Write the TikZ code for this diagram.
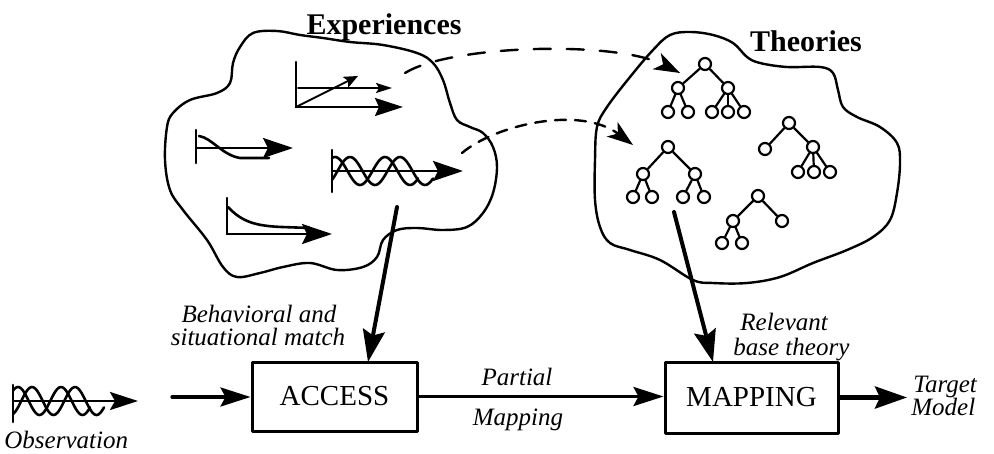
\documentclass[tikz,border=0pt]{standalone}
\usepackage{fontspec}
\setmainfont{Liberation Serif}
\usetikzlibrary{arrows.meta}

\tikzset{
  outline/.style={line width=1.2pt},
  icon/.style={line width=1.3pt},
  tn/.style={circle, draw, line width=1.1pt, minimum size=6pt, inner sep=0pt},
  tedge/.style={line width=1.1pt},
  bigarrow/.style={line width=2pt, -{Stealth[length=16pt, width=11pt, inset=2.5pt]}},
  flowarrow/.style={line width=1.6pt, -{Stealth[length=15pt, width=9.5pt, inset=2.5pt]}},
  outarrow/.style={line width=2.3pt, -{Stealth[length=16pt, width=11pt, inset=2.5pt]}},
  dasharrow/.style={line width=1.2pt, -{Stealth[length=13pt, width=9pt, inset=3.5pt]}},
  procbox/.style={draw, line width=1.5pt, inner sep=0pt, font=\fontsize{14.5}{17}\selectfont},
  lbl/.style={inner sep=0pt, font=\fontsize{12.5}{15}\selectfont\itshape},
  heading/.style={inner sep=0pt, font=\fontsize{15}{18}\selectfont\bfseries},
}

\begin{document}
\begin{tikzpicture}[x=0.5pt, y=-0.5pt, line join=round, line cap=round]
\useasboundingbox (0,0) rectangle (994,454);

% ---------------- Experiences cloud ----------------
\draw[outline] plot[smooth cycle, tension=0.6] coordinates {
  (253,33) (277,31) (300,35) (323,38) (350,42) (383,45) (417,53) (433,63)
  (443,80) (450,103) (457,120) (470,127) (483,133) (493,147) (497,167)
  (493,193) (483,213) (467,227) (443,230) (417,228) (397,230) (383,240)
  (377,257) (363,267) (337,270) (310,263) (283,267) (260,273) (237,277)
  (223,267) (207,240) (183,210) (170,190) (165,160) (167,127) (173,113)
  (190,100) (217,93) (230,83) (233,63) (240,47)};
\node[heading, anchor=base] (exptitle) at (384,35) {Experiences};

% icon: rising line
\draw[icon] (296,62) -- (296,107);
\draw[icon, -{Stealth[length=14pt, width=9pt, inset=2pt]}] (296,107) -- (403,107);
\draw[line width=1pt, -{Stealth[length=8pt, width=5pt, inset=1.5pt]}] (298,88) -- (392,88);
\draw[line width=1pt, -{Stealth[length=7pt, width=6pt, inset=1.5pt]}] (296,107) -- (358,76);

% icon: S-curve
\draw[icon] (196,130) -- (196,163);
\draw[icon, -{Stealth[length=15pt, width=10pt, inset=2.5pt]}] (196,148) -- (293,148);
\draw[icon] (199,136) .. controls (212,138) and (222,155) .. (240,158) -- (269,158);

% icon: two waves (period 50 px)
\draw[icon] (332,150) -- (332,192);
\draw[icon] plot[domain=332:418, samples=60, smooth] (\x, {171 - 14*cos(7.2*(\x-335))});
\draw[icon] plot[domain=332:433, samples=60, smooth] (\x, {171 - 14*cos(7.2*(\x-350))});
\draw[icon, -{Stealth[length=15pt, width=10pt, inset=2.5pt]}] (332,171) -- (463,171);

% icon: decay
\draw[icon] (227,198) -- (227,234);
\draw[icon, -{Stealth[length=15pt, width=10pt, inset=2.5pt]}] (227,234) -- (332,234);
\draw[icon] (228,207) .. controls (242,222) and (256,226) .. (282,227) -- (310,228);

% ---------------- Theories cloud ----------------
\draw[outline] plot[smooth cycle, tension=0.6] coordinates {
  (670,35) (690,32) (713,35) (733,43) (747,57) (760,63) (787,67) (820,67)
  (833,73) (838,90) (843,107) (857,117) (880,127) (897,143) (900,163)
  (897,193) (890,220) (873,237) (847,250) (813,263) (780,277) (747,283)
  (713,283) (693,280) (660,260) (630,250) (610,243) (600,227) (595,200)
  (595,160) (597,127) (607,107) (630,77) (653,50)};
\node[heading, anchor=base] (thtitle) at (806,52) {Theories};

% tree A
\node[tn] (a0) at (705,64) {};
\node[tn] (a1) at (678,88) {};
\node[tn] (a2) at (728,88) {};
\node[tn] (a3) at (668,112) {};
\node[tn] (a4) at (688,112) {};
\node[tn] (a5) at (712,112) {};
\node[tn] (a6) at (728,112) {};
\node[tn] (a7) at (744,112) {};
\foreach \p/\c in {a0/a1, a0/a2, a1/a3, a1/a4, a2/a5, a2/a6, a2/a7}
  \draw[tedge] (\p) -- (\c);

% tree B
\node[tn] (b0) at (789,123) {};
\node[tn] (b1) at (765,149) {};
\node[tn] (b2) at (813,147) {};
\node[tn] (b3) at (798,172) {};
\node[tn] (b4) at (814,172) {};
\node[tn] (b5) at (830,172) {};
\foreach \p/\c in {b0/b1, b0/b2, b2/b3, b2/b4, b2/b5}
  \draw[tedge] (\p) -- (\c);

% tree C
\node[tn] (c0) at (668,147) {};
\node[tn] (c1) at (643,174) {};
\node[tn] (c2) at (695,174) {};
\node[tn] (c3) at (633,197) {};
\node[tn] (c4) at (652,197) {};
\node[tn] (c5) at (683,197) {};
\node[tn] (c6) at (704,197) {};
\foreach \p/\c in {c0/c1, c0/c2, c1/c3, c1/c4, c2/c5, c2/c6}
  \draw[tedge] (\p) -- (\c);

% tree D
\node[tn] (d0) at (758,196) {};
\node[tn] (d1) at (733,221) {};
\node[tn] (d2) at (782,221) {};
\node[tn] (d3) at (722,243) {};
\node[tn] (d4) at (742,243) {};
\foreach \p/\c in {d0/d1, d0/d2, d1/d3, d1/d4}
  \draw[tedge] (\p) -- (\c);

% ---------------- dashed links between the clouds ----------------
\coordinate (ds1) at (405,73);
\coordinate (de1) at (680,73);
\coordinate (ds2) at (462,153);
\coordinate (de2) at (633,145);
\draw[dasharrow, dash pattern=on 8.5pt off 8pt] (ds1) .. controls (450,45) and (615,40) .. (de1);
\draw[dasharrow, dash pattern=on 5.5pt off 4.5pt] (ds2) .. controls (495,125) and (580,105) .. (de2);

% ---------------- process boxes ----------------
\node[procbox, minimum width=82.5pt, minimum height=34.5pt] (access) at (334.5,396.5) {ACCESS};
\node[procbox, minimum width=86.5pt, minimum height=35.5pt] (mapping) at (751.5,397.5) {MAPPING};

% observation icon (period 43 px)
\draw[icon] (13,385) -- (13,422);
\draw[icon] plot[domain=13:90, samples=50, smooth] (\x, {401 - 14*cos(8.372*(\x-18))});
\draw[icon] plot[domain=13:104, samples=50, smooth] (\x, {401 - 14*cos(8.372*(\x-32))});
\draw[icon, -{Stealth[length=14pt, width=9pt, inset=2.5pt]}] (13,401) -- (138,401);
\node[lbl, anchor=base west] (obs) at (4,448) {Observation};

% ---------------- connectors ----------------
\coordinate (obsout) at (172,397);
\draw[flowarrow] (obsout) -- (obsout -| access.west);
\draw[flowarrow] (access.east) -- (access.east -| mapping.west);
\coordinate (tgt) at (907,397.5);
\draw[outarrow] (mapping.east) -- (tgt);

\coordinate (expout) at (397,207);
\coordinate (accin) at (368,362);
\draw[bigarrow] (expout) -- (accin);
\coordinate (thout) at (674,212);
\coordinate (mapin) at (713,362);
\draw[bigarrow] (thout) -- (mapin);

% ---------------- labels ----------------
\node[lbl, anchor=base] (beh1) at (259,322) {Behavioral and};
\node[lbl, anchor=base] (beh2) at (258,345) {situational match};
\node[lbl, anchor=base west] (rel1) at (740,330) {Relevant};
\node[lbl, anchor=base west] (rel2) at (733,355) {base theory};
\node[lbl, anchor=base] (part) at (517,385) {Partial};
\node[lbl, anchor=base] (mapl) at (518,425) {Mapping};
\node[lbl, anchor=base west] (tgt1) at (913,392) {Target};
\node[lbl, anchor=base west] (tgt2) at (911,415) {Model};
\end{tikzpicture}
\end{document}
